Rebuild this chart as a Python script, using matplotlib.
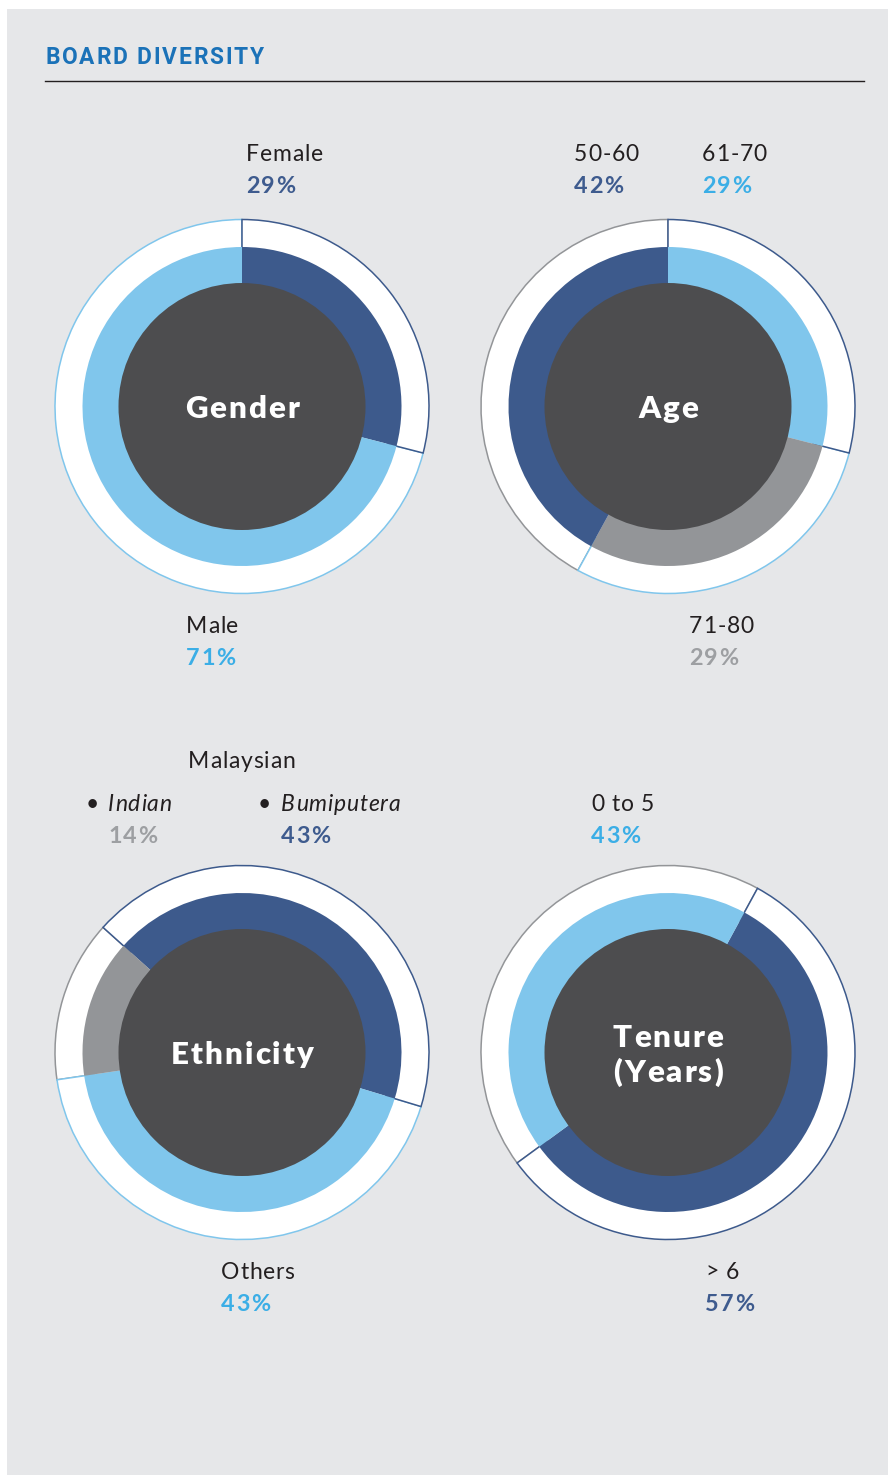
import matplotlib
matplotlib.use('Agg')
import matplotlib.pyplot as plt
from matplotlib.patches import Rectangle, Circle
from matplotlib.font_manager import FontProperties, findfont, get_font

# ---------------- data ----------------
gender_labels = ['Female', 'Male']
gender_values = [29, 71]

age_labels = ['61-70', '71-80', '50-60']
age_values = [29, 29, 42]

ethnicity_labels = ['Bumiputera', 'Others', 'Indian']
ethnicity_values = [43, 43, 14]
ethnicity_group = 'Malaysian'

tenure_labels = ['> 6', '0 to 5']
tenure_values = [57, 43]

title = 'BOARD DIVERSITY'
center_titles = ['Gender', 'Age', 'Ethnicity', 'Tenure\n(Years)']

# ---------------- style ----------------
W, H = 895, 1475
DARK = '#3D5A8C'
LIGHT = '#80C6EC'
GREY = '#939598'
CENTER = '#4D4D4F'
BG = '#E6E7E9'
TXT = '#231F20'
T_DARK = '#3E5B8E'
T_LIGHT = '#3BAEE6'
T_GREY = '#9D9FA2'

R_OUT, R_MID, R_IN = 187, 159.5, 123.5

fig = plt.figure(figsize=(W / 100, H / 100), dpi=100)
fig.patch.set_facecolor('white')
ax = fig.add_axes([0, 0, 1, 1])
ax.axis('off')


def Y(y):
    return H - y


def tracked(x, y, s, size, family, weight, color, track, ha='left', style='normal', z=8):
    fp = FontProperties(family=family, weight=weight, style=style, size=size)
    font = get_font(findfont(fp))
    font.set_size(size, 100)
    advs = [font.load_char(ord(c)).linearHoriAdvance / 65536 for c in s]
    total = sum(advs) + track * (len(s) - 1)
    x0 = x - total / 2 if ha == 'center' else x
    for c, a in zip(s, advs):
        if c != ' ':
            ax.text(x0, Y(y), c, fontproperties=fp, color=color, ha='left',
                    va='baseline', zorder=z)
        x0 += a + track


ax.add_patch(Rectangle((7, 0), 881, H - 9, facecolor=BG, edgecolor='none', zorder=0))

# title + rule
tracked(45.5, 64, title, 16.4, 'Roboto', 'bold', '#1B72B8', 1.8)
ax.plot([45.5, 864.5], [Y(81), Y(81)], color='#231F20', lw=1.0, zorder=7)


def donut(cx, cy, values, ring_colors, outline_colors, outline_z, start):
    wedges, _ = ax.pie(values, radius=R_OUT, center=(cx, Y(cy)), startangle=start,
                       counterclock=False, colors=['white'] * len(values),
                       wedgeprops=dict(width=R_OUT - 150, linewidth=1.1), frame=True)
    for w, ec, z in zip(wedges, outline_colors, outline_z):
        w.set_edgecolor(ec)
        w.set_zorder(z)
    wedges2, _ = ax.pie(values, radius=R_MID, center=(cx, Y(cy)), startangle=start,
                        counterclock=False, colors=ring_colors,
                        wedgeprops=dict(width=R_MID - R_IN + 1, linewidth=0), frame=True)
    for w in wedges2:
        w.set_zorder(5)
    ax.add_patch(Circle((cx, Y(cy)), R_IN, facecolor=CENTER, edgecolor='none', zorder=6))


donut(242, 406.5, gender_values, [DARK, LIGHT], [DARK, LIGHT], [3, 2], 90)
donut(668, 406.5, age_values, [LIGHT, GREY, DARK], [DARK, LIGHT, GREY], [3, 2.5, 2], 90)
donut(242, 1052.5, ethnicity_values, [DARK, LIGHT, GREY], [DARK, LIGHT, GREY], [3, 2.5, 2], 138)
donut(668, 1052.5, tenure_values, [DARK, LIGHT], [DARK, GREY], [3, 2], 61.4)


# center titles
def ctitle(x, y, s):
    tracked(x, y, s, 22.5, 'Lato', 'heavy', 'white', 2.0, ha='center')


ctitle(242, 418, center_titles[0])
ctitle(668, 418, center_titles[1])
ctitle(242, 1063.5, center_titles[2])
t1, t2 = center_titles[3].split('\n')
ctitle(668, 1047, t1)
ctitle(668, 1081.5, t2)


# category labels
def label(x, y, name, value, color, italic=False):
    tracked(x, y, name, 16.5, 'Lato', 'normal', TXT, 0.8,
            style='italic' if italic else 'normal')
    tracked(x, y + 32, f'{value}%', 16.8, 'Lato', 'bold', color, 1.6)


label(246, 161, gender_labels[0], gender_values[0], T_DARK)
label(186, 633, gender_labels[1], gender_values[1], T_LIGHT)
label(574, 161, age_labels[2], age_values[2], T_DARK)
label(702, 161, age_labels[0], age_values[0], T_LIGHT)
label(689, 633, age_labels[1], age_values[1], T_GREY)

tracked(188, 768, ethnicity_group, 16.5, 'Lato', 'normal', TXT, 0.8)
tracked(86, 811, '\u2022', 16.5, 'Lato', 'normal', TXT, 0)
tracked(258, 811, '\u2022', 16.5, 'Lato', 'normal', TXT, 0)
label(108, 811, ethnicity_labels[2], ethnicity_values[2], T_GREY, italic=True)
label(281, 811, ethnicity_labels[0], ethnicity_values[0], T_DARK, italic=True)
label(221, 1279, ethnicity_labels[1], ethnicity_values[1], T_LIGHT)

label(591, 811, tenure_labels[1], tenure_values[1], T_LIGHT)
label(705, 1279, tenure_labels[0], tenure_values[0], T_DARK)

ax.set_xlim(0, W)
ax.set_ylim(0, H)
ax.set_aspect('auto')
fig.savefig('out.png', dpi=100, facecolor='white')
